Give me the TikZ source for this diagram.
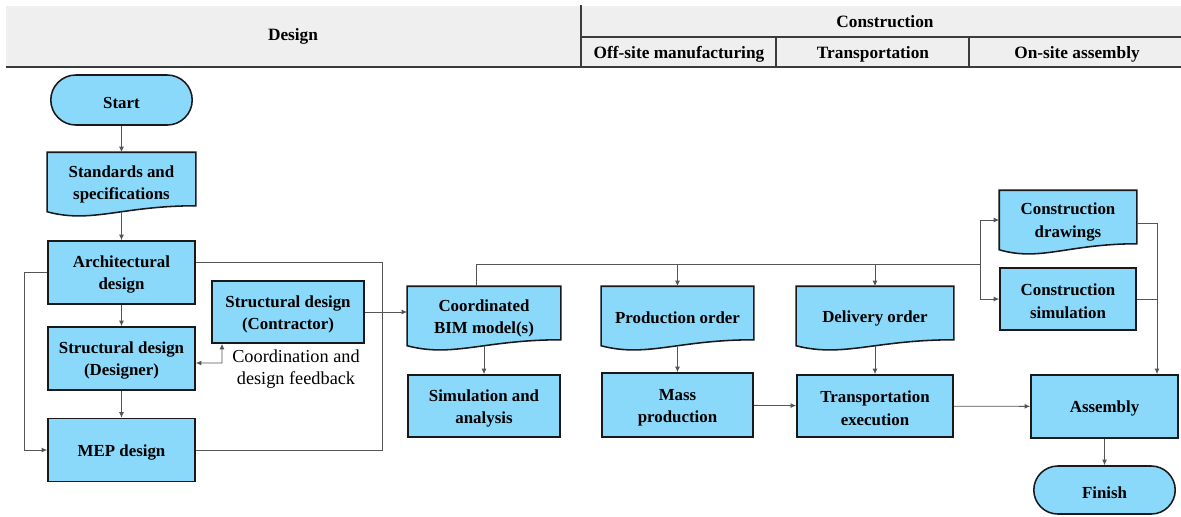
\documentclass[tikz,border=0pt]{standalone}
\usepackage{fontspec}
\setmainfont{Liberation Serif}
\usetikzlibrary{arrows.meta, calc, positioning, shapes.misc, backgrounds}
\definecolor{boxblue}{RGB}{138,216,250}
\definecolor{headgray}{RGB}{239,239,239}
\definecolor{linegray}{RGB}{85,85,85}
\definecolor{edgedark}{RGB}{25,25,25}

\begin{document}
\begin{tikzpicture}[
    x=0.025cm, y=-0.025cm,
    box/.style={rectangle, draw=edgedark, fill=boxblue, line width=1.1pt, inner sep=2pt, text width=3.25cm, align=flush center, font=\bfseries\fontsize{12}{16}\selectfont, execute at begin node={\rule{0pt}{11.5pt}}},
    doc/.style={box, draw=none, fill=none, minimum height=1.45cm},
    term/.style={box, rounded rectangle, minimum width=3.675cm},
    docshape/.style={draw=edgedark, fill=boxblue, line width=1.1pt},
    line/.style={draw=linegray, line width=0.6pt},
    arrow/.style={line, -{Latex[length=4pt, width=3.5pt]}},
    biarrow/.style={line, {Latex[length=4pt, width=3.5pt]}-{Latex[length=4pt, width=3.5pt]}},
    head/.style={font=\bfseries\fontsize{12.3}{14}\selectfont},
    label/.style={align=center, font=\fontsize{13}{15.6}\selectfont}
]
    \useasboundingbox (0,0) rectangle (1181,516);

    % Header
    \fill[headgray] (6,6) rectangle (1181,67);
    \draw[edgedark!85, line width=1.4pt] (6,67) -- (1181,67);
    \draw[edgedark!85, line width=1pt] (581,5) -- (581,67) (581,37) -- (1181,37) (776,37) -- (776,67) (969,37) -- (969,67);
    \node[head] (design) at (293,36) {Design};
    \node[head] (construction) at (885,21.5) {Construction};
    \node[head] (offsite) at (679,54.5) {Off-site manufacturing};
    \node[head] (transport) at (873,54.5) {Transportation};
    \node[head] (onsite) at (1077,54.5) {On-site assembly};

    % Design phase
    \node[term, minimum height=1.25cm] (start) at (121.5,100) {Start};
    \node[doc, minimum width=3.675cm] (std) at (121.5,182) {Standards and\\specifications};
    \node[box, minimum width=3.675cm, minimum height=1.575cm] (arch) at (121.5,272.5) {Architectural\\design};
    \node[box, minimum width=3.675cm, minimum height=1.575cm] (designer) at (121.5,358.5) {Structural design\\(Designer)};
    \node[box, minimum width=3.675cm, minimum height=1.575cm] (mep) at (121.5,450) {MEP design};
    \node[box, minimum width=3.8cm, minimum height=1.55cm] (contractor) at (288,312) {Structural design\\(Contractor)};
    \node[label] (feedback) at (296,369) {Coordination and\\design feedback};
    \node[doc, minimum width=3.8cm] (bim) at (484,316) {Coordinated\\BIM model(s)};
    \node[box, minimum width=3.8cm, minimum height=1.55cm] (sim) at (484,406) {Simulation and\\analysis};

    % Construction phase
    \node[doc, minimum width=3.775cm] (prod) at (677.5,316) {Production order};
    \node[box, minimum width=3.775cm, minimum height=1.6cm] (mass) at (677.5,405) {Mass\\production};
    \node[doc, minimum width=3.9cm] (deliv) at (875,316) {Delivery order};
    \node[box, minimum width=3.9cm, minimum height=1.55cm] (trans) at (875,406) {Transportation\\execution};
    \node[doc, minimum width=3.4cm] (cdraw) at (1068,220) {Construction\\drawings};
    \node[box, minimum width=3.4cm, minimum height=1.55cm] (csim) at (1068,299) {Construction\\simulation};
    \node[box, minimum width=3.675cm, minimum height=1.575cm] (asm) at (1104.5,406.5) {Assembly};
    \node[term, minimum height=1.2cm] (finish) at (1104.5,490) {Finish};

    % Document shapes with wavy bottom
    \begin{scope}[on background layer]
        \foreach \n in {std, bim, prod, deliv, cdraw} {
            \path[docshape] (\n.north west) -- (\n.north east) -- ($(\n.south east)+(0,-6)$)
                .. controls ($(\n.south west)!0.5!(\n.south east)+(0,-6)$) and ($(\n.south west)!0.3!(\n.south east)+(0,12)$) .. (\n.south west) -- cycle;
        }
    \end{scope}

    % Design connectors
    \draw[arrow] (start) -- (std);
    \draw[arrow] (std) -- (arch);
    \draw[arrow] (arch) -- (designer);
    \draw[arrow] (designer) -- (mep);
    \draw[arrow] (arch.west) -- ++(-23,0) |- (mep.west);
    \coordinate (merge) at (382,312);
    \draw[line] ($(arch.north east)!0.35!(arch.south east)$) -| (merge);
    \draw[line] (mep.east) -| (merge);
    \draw[arrow] (contractor.east) -- (contractor.east -| bim.west);
    \coordinate (fb) at (222,363);
    \draw[biarrow] ($(designer.east)+(0,4.5)$) -- (fb) -- (fb |- contractor.south);
    \draw[arrow] (bim) -- (sim);

    % Construction connectors
    \coordinate (bus) at (980,264);
    \draw[line] ($(bim.north)+(-8,0)$) |- (bus);
    \draw[arrow] (prod.north |- bus) -- (prod.north);
    \draw[arrow] (deliv.north |- bus) -- (deliv.north);
    \draw[arrow] (bus) |- (cdraw.west);
    \draw[arrow] (bus) |- (csim.west);
    \draw[arrow] (prod) -- (mass);
    \draw[arrow] (deliv) -- (trans);
    \draw[arrow] (mass) -- (trans);
    \draw[arrow] (trans) -- (asm);
    \coordinate (rx) at (1157,223);
    \draw[arrow] (cdraw.east |- rx) -- (rx) -- (rx |- asm.north);
    \draw[line] (csim.east) -- (csim.east -| rx);
    \draw[arrow] (asm) -- (finish);
\end{tikzpicture}
\end{document}
